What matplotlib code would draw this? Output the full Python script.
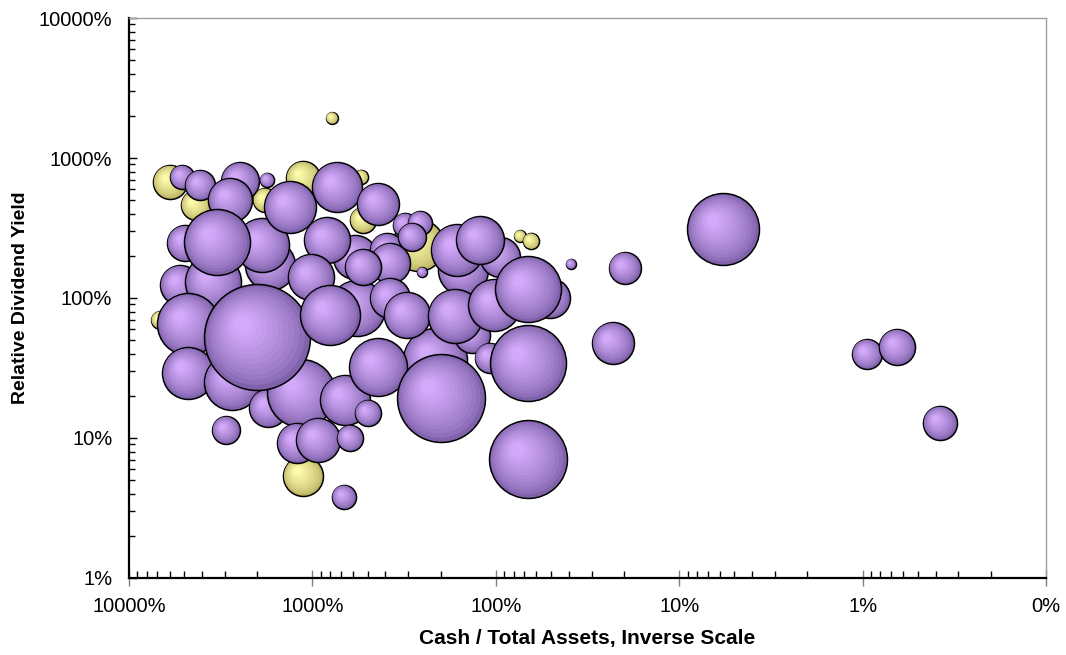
import numpy as np
import matplotlib
matplotlib.use("Agg")
import matplotlib.pyplot as plt
from matplotlib.colors import to_rgb
from matplotlib.ticker import LogLocator, FuncFormatter, NullFormatter
from matplotlib.transforms import ScaledTranslation

plt.rcParams["font.family"] = ["Liberation Sans", "DejaVu Sans"]

# cash / total assets (%), relative dividend yield (%), bubble size
yellow_cash = [5975, 1125, 4315, 1814, 530, 543, 265, 6776, 1125, 782, 73.8, 64.3]
yellow_yield = [674, 719, 461, 501, 361, 731, 239, 69.7, 5.35, 1931, 277, 255]
yellow_size = [11.6, 11.6, 9.0, 5.8, 6.8, 2.0, 27.0, 3.2, 16.0, 1.4, 1.4, 2.6]

purple_cash = [4955, 5270, 1703, 3483, 586, 571, 392, 378, 530, 378,
               313, 259, 286, 215, 151, 135, 108, 94.8, 252,
               5140, 4100, 2483, 1768, 2812, 734, 439, 1884, 3311, 1324,
               833, 1018, 4770, 4770, 2744, 1746, 1153, 2004, 801, 664,
               498, 1213, 932, 624, 2958, 673, 439, 305, 163, 122,
               167, 102, 50.6, 66.7, 199, 66.7, 66.7, 38.9, 19.8, 23.0,
               5.77, 0.946, 0.649, 0.378]
purple_yield = [247, 124, 172, 130, 196, 84.9, 220, 178, 166, 100,
                332, 343, 273, 36.1, 158, 54.4, 37.3, 196, 153,
                731, 641, 685, 697, 501, 621, 469, 239, 251, 447,
                259, 141, 65.2, 29.1, 25.1, 16.4, 20.9, 52.6, 75.7, 18.7,
                15.1, 9.21, 9.68, 10.0, 11.4, 3.79, 32.1, 75.7, 220, 259,
                74.4, 89.1, 100, 116, 19.3, 34.4, 7.08, 175, 164, 47.7,
                311, 39.8, 44.7, 12.8]
purple_size = [13.0, 16.0, 25.0, 31.4, 19.4, 31.4, 11.6, 16.0, 13.0, 16.0,
               5.8, 5.8, 7.8, 41.0, 25.0, 13.0, 9.0, 16.0, 1.0,
               5.8, 9.0, 14.4, 2.0, 19.4, 25.0, 17.6, 29.2, 43.6, 27.0,
               21.2, 21.2, 38.4, 27.0, 31.4, 14.4, 46.2, 112.4, 36.0, 25.0,
               6.8, 16.0, 19.4, 6.8, 7.8, 5.8, 33.6, 21.2, 27.0, 23.0,
               29.2, 27.0, 16.0, 43.6, 77.4, 57.8, 60.8, 1.0, 10.2, 17.6,
               51.8, 9.0, 13.0, 11.6]

DPI = 100
MAX_RADIUS_PX = 53.0
MAX_SIZE = max(max(yellow_size), max(purple_size))

fig = plt.figure(figsize=(10.66, 6.55), dpi=DPI)
ax = fig.add_axes([0.1210, 0.1176, 0.8602, 0.8549])
ax.set_xscale("log")
ax.set_yscale("log")
ax.set_xlim(10000, 0.1)
ax.set_ylim(1, 10000)


def draw_bubble(x, y, size, rim, light, layers=12):
    # stack of shrinking discs drifting up-left gives the shaded sphere look
    r_px = MAX_RADIUS_PX * np.sqrt(size / MAX_SIZE)
    rim = np.array(to_rgb(rim))
    light = np.array(to_rgb(light))
    for k in range(layers):
        t = k / layers
        rr = r_px * (1 - 0.9 * t)
        dx = -0.30 * r_px * t
        dy = 0.26 * r_px * t
        col = rim + (light - rim) * t ** 0.7
        tr = ax.transData + ScaledTranslation(dx / DPI, dy / DPI, fig.dpi_scale_trans)
        ax.scatter([x], [y], s=(2 * rr * 72 / DPI) ** 2, color=col,
                   edgecolors="black" if k == 0 else "none",
                   linewidths=1.1 if k == 0 else 0, transform=tr, zorder=3)


for x, y, s in zip(yellow_cash, yellow_yield, yellow_size):
    draw_bubble(x, y, s, "#bdb463", "#ffffb0")
for x, y, s in zip(purple_cash, purple_yield, purple_size):
    draw_bubble(x, y, s, "#7f62aa", "#d8aeff")

pct = FuncFormatter(lambda v, pos: f"{v:.0f}%")
for axis in (ax.xaxis, ax.yaxis):
    axis.set_major_locator(LogLocator(base=10, numticks=10))
    axis.set_minor_locator(LogLocator(base=10, subs=np.arange(2, 10), numticks=10))
    axis.set_major_formatter(pct)
    axis.set_minor_formatter(NullFormatter())

ax.tick_params(axis="x", which="major", direction="inout", length=12, width=1,
               color="#808080", pad=8, labelsize=14.5)
ax.tick_params(axis="x", which="minor", direction="in", length=5, width=1, color="black")
ax.tick_params(axis="y", which="major", direction="in", length=6, width=1,
               color="black", pad=12, labelsize=14.5)
ax.tick_params(axis="y", which="minor", direction="in", length=4, width=1, color="black")

for side in ("left", "bottom"):
    ax.spines[side].set_color("black")
    ax.spines[side].set_linewidth(1.6)
for side in ("top", "right"):
    ax.spines[side].set_color("#a0a0a0")
    ax.spines[side].set_linewidth(1.0)

ax.set_xlabel("Cash / Total Assets, Inverse Scale", fontsize=15, fontweight="bold", labelpad=9)
ax.set_ylabel("Relative Dividend Yield", fontsize=14, fontweight="bold", labelpad=7)

fig.savefig("out.png", dpi=DPI)
